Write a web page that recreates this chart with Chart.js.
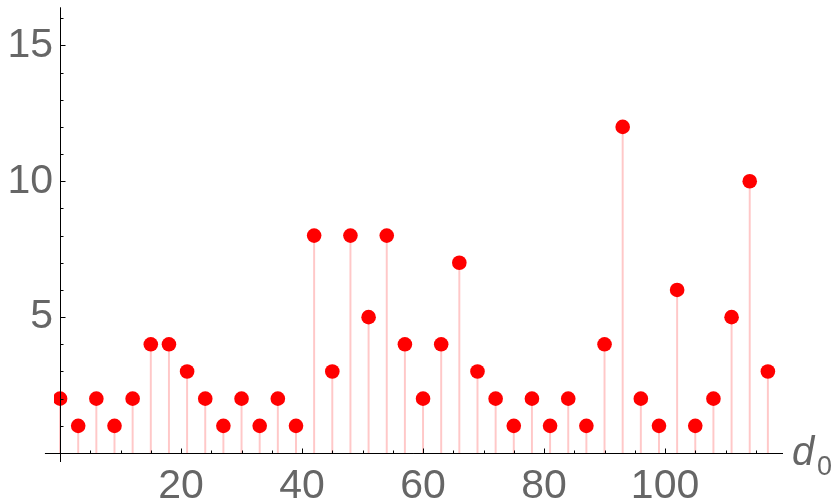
<!DOCTYPE html>
<html>
<head>
<meta charset="utf-8">
<script src="https://cdn.jsdelivr.net/npm/chart.js@4.4.1/dist/chart.umd.min.js"></script>
<style>
  html, body { margin: 0; padding: 0; background: #fff; }
  #wrap { width: 837px; height: 502px; position: relative; }
</style>
</head>
<body>
<div id="wrap"><canvas id="stemChart"></canvas></div>
<script>
// d0 values (step 3) and counts
const d0 = [0, 3, 6, 9, 12, 15, 18, 21, 24, 27, 30, 33, 36, 39, 42, 45, 48, 51, 54, 57,
            60, 63, 66, 69, 72, 75, 78, 81, 84, 87, 90, 93, 96, 99, 102, 105, 108, 111, 114, 117];
const counts = [2, 1, 2, 1, 2, 4, 4, 3, 2, 1, 2, 1, 2, 1, 8, 3, 8, 5, 8, 4,
                2, 4, 7, 3, 2, 1, 2, 1, 2, 1, 4, 12, 2, 1, 6, 1, 2, 5, 10, 3];
const xMajor = [20, 40, 60, 80, 100];
const yMajor = [5, 10, 15];

const points = d0.map((x, i) => ({ x: x, y: counts[i] }));

const labelFont = { family: 'Liberation Sans, Arial, sans-serif', size: 41 };
const grey = '#666666';
const xAxisStart = -2.5; // x axis line sticks out a bit left of the y axis

// axes through the origin with small inward ticks, Mathematica style
const axesPlugin = {
  id: 'axesPlugin',
  afterDatasetsDraw(chart) {
    const { ctx, chartArea, scales } = chart;
    const x0 = Math.round(scales.x.getPixelForValue(0)) + 0.5;
    const y0 = Math.round(scales.y.getPixelForValue(0)) + 0.5;
    ctx.save();
    ctx.strokeStyle = '#000';
    ctx.lineWidth = 1;
    ctx.beginPath();
    ctx.moveTo(scales.x.getPixelForValue(xAxisStart), y0);
    ctx.lineTo(chartArea.right, y0);
    ctx.moveTo(x0, chartArea.top);
    ctx.lineTo(x0, chartArea.bottom);
    // x ticks every 5, major every 20
    for (let v = 5; v <= scales.x.max; v += 5) {
      const px = Math.round(scales.x.getPixelForValue(v)) + 0.5;
      const len = xMajor.includes(v) ? 5 : 3;
      ctx.moveTo(px, y0);
      ctx.lineTo(px, y0 - len);
    }
    // y ticks every 1, major every 5
    for (let v = 1; v <= scales.y.max; v += 1) {
      const py = Math.round(scales.y.getPixelForValue(v)) + 0.5;
      const len = yMajor.includes(v) ? 5 : 3;
      ctx.moveTo(x0, py);
      ctx.lineTo(x0 + len, py);
    }
    ctx.stroke();

    // axis label d0
    ctx.fillStyle = grey;
    ctx.textBaseline = 'alphabetic';
    ctx.textAlign = 'left';
    ctx.font = 'italic 40px Liberation Sans, Arial, sans-serif';
    ctx.fillText('d', 792, 465);
    ctx.font = '27px Liberation Sans, Arial, sans-serif';
    ctx.fillText('0', 817, 475);
    ctx.restore();
  }
};

new Chart(document.getElementById('stemChart'), {
  type: 'scatter',
  data: {
    datasets: [
      {
        type: 'scatter',
        data: points,
        backgroundColor: 'rgb(255, 0, 0)',
        borderWidth: 0,
        pointRadius: 7.3,
        order: 0,
      },
      {
        type: 'bar',
        data: points,
        backgroundColor: 'rgb(255, 200, 200)',
        barThickness: 1.3,
        order: 1,
      },
    ],
  },
  options: {
    responsive: true,
    maintainAspectRatio: false,
    animation: false,
    layout: { padding: { top: 7, right: 54, left: 0, bottom: 0 } },
    plugins: {
      legend: { display: false },
      tooltip: { enabled: false },
    },
    scales: {
      x: {
        type: 'linear',
        min: -1,
        max: 119.5,
        offset: false,
        grid: { display: false, drawTicks: false },
        border: { display: false },
        afterBuildTicks: (scale) => { scale.ticks = xMajor.map((v) => ({ value: v })); },
        afterFit: (scale) => {
          scale.height = 40;
          scale.paddingLeft = 0;
          scale.paddingRight = 0;
        },
        ticks: { color: grey, font: labelFont, padding: 0, maxRotation: 0 },
      },
      y: {
        min: -0.33,
        max: 16.4,
        grid: { display: false, drawTicks: false },
        border: { display: false },
        afterBuildTicks: (scale) => { scale.ticks = yMajor.map((v) => ({ value: v })); },
        afterFit: (scale) => {
          scale.width = 54;
          scale.paddingTop = 0;
          scale.paddingBottom = 0;
        },
        ticks: { color: grey, font: labelFont, padding: 1 },
      },
    },
  },
  plugins: [axesPlugin],
});
</script>
</body>
</html>
